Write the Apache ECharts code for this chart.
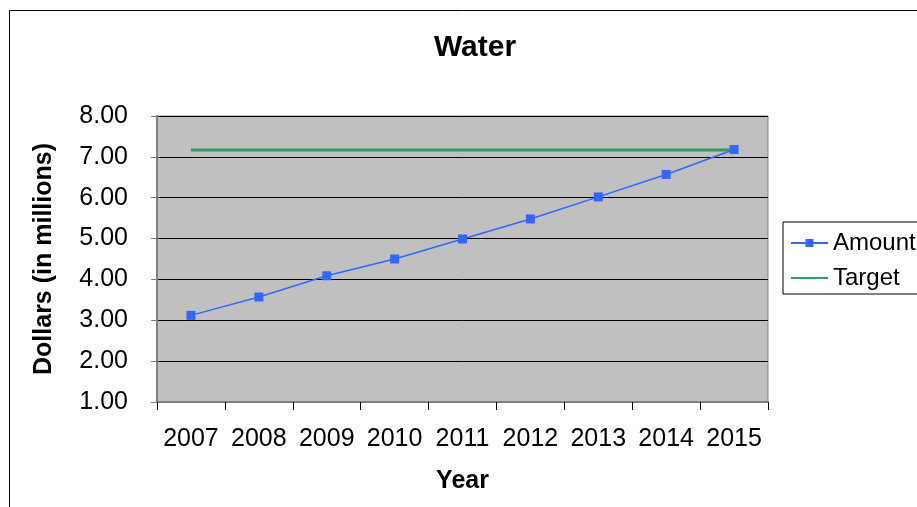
<!DOCTYPE html>
<html>
<head>
<meta charset="utf-8">
<script src="https://cdn.jsdelivr.net/npm/echarts@6/dist/echarts.min.js"></script>
<style>
  html, body { margin: 0; padding: 0; background: #fff; }
  #chart { width: 917px; height: 507px; }
</style>
</head>
<body>
<div id="chart"></div>
<script>
const years = ['2007', '2008', '2009', '2010', '2011', '2012', '2013', '2014', '2015'];
const amount = [3.12, 3.57, 4.09, 4.50, 4.99, 5.48, 6.02, 6.57, 7.18];
const target = [7.17, 7.17, 7.17, 7.17, 7.17, 7.17, 7.17, 7.17, 7.17];

const font = 'Liberation Sans, Arial, sans-serif';
const chart = echarts.init(document.getElementById('chart'));

const option = {
  animation: false,
  textStyle: { fontFamily: font },
  title: {
    text: 'Water',
    left: 470,
    top: 28,
    textAlign: 'center',
    textStyle: { fontSize: 30, fontWeight: 'bold', color: '#000', fontFamily: font }
  },
  graphic: [
    {
      type: 'rect',
      shape: { x: 9.5, y: 10.5, width: 1000, height: 600 },
      style: { fill: 'none', stroke: '#000', lineWidth: 1 },
      silent: true
    }
  ],
  legend: {
    left: 783,
    top: 222,
    orient: 'vertical',
    padding: [9, 40, 4, 7],
    itemGap: 11,
    itemWidth: 37,
    itemHeight: 10,
    borderColor: '#000',
    borderWidth: 1,
    textStyle: { fontSize: 24, color: '#000', fontFamily: font },
    data: [
      { name: 'Amount' },
      { name: 'Target', itemStyle: { opacity: 0 } }
    ]
  },
  grid: {
    left: 157,
    top: 116,
    width: 611,
    height: 286,
    show: true,
    backgroundColor: '#c0c0c0',
    borderColor: '#808080',
    borderWidth: 1
  },
  xAxis: {
    type: 'category',
    data: years,
    boundaryGap: true,
    name: 'Year',
    nameLocation: 'middle',
    nameGap: 67,
    nameTextStyle: { fontSize: 25, fontWeight: 'bold', color: '#000', fontFamily: font },
    axisLine: { lineStyle: { color: '#808080', width: 2 } },
    axisTick: { show: true, length: 8, lineStyle: { color: '#000' } },
    axisLabel: { fontSize: 25, color: '#000', margin: 25, fontFamily: font, interval: 0 }
  },
  yAxis: {
    type: 'value',
    min: 1,
    max: 8,
    interval: 1,
    name: 'Dollars (in millions)',
    nameLocation: 'middle',
    nameGap: 100,
    nameTextStyle: { fontSize: 25, fontWeight: 'bold', color: '#000', fontFamily: font },
    axisLine: { show: true, lineStyle: { color: '#808080', width: 2 } },
    axisTick: { show: true, length: 6, lineStyle: { color: '#808080' } },
    axisLabel: {
      fontSize: 25,
      color: '#000',
      margin: 29,
      fontFamily: font,
      formatter: v => v.toFixed(2)
    },
    splitLine: { show: true, lineStyle: { color: '#000', width: 1 } }
  },
  series: [
    {
      name: 'Amount',
      type: 'line',
      data: amount,
      symbol: 'rect',
      symbolSize: 9,
      itemStyle: { color: '#3366ff' },
      lineStyle: { color: '#3366ff', width: 1.5 }
    },
    {
      name: 'Target',
      type: 'line',
      data: target,
      symbol: 'none',
      itemStyle: { color: '#339966' },
      lineStyle: { color: '#339966', width: 3 }
    }
  ]
};

chart.setOption(option);
</script>
</body>
</html>
